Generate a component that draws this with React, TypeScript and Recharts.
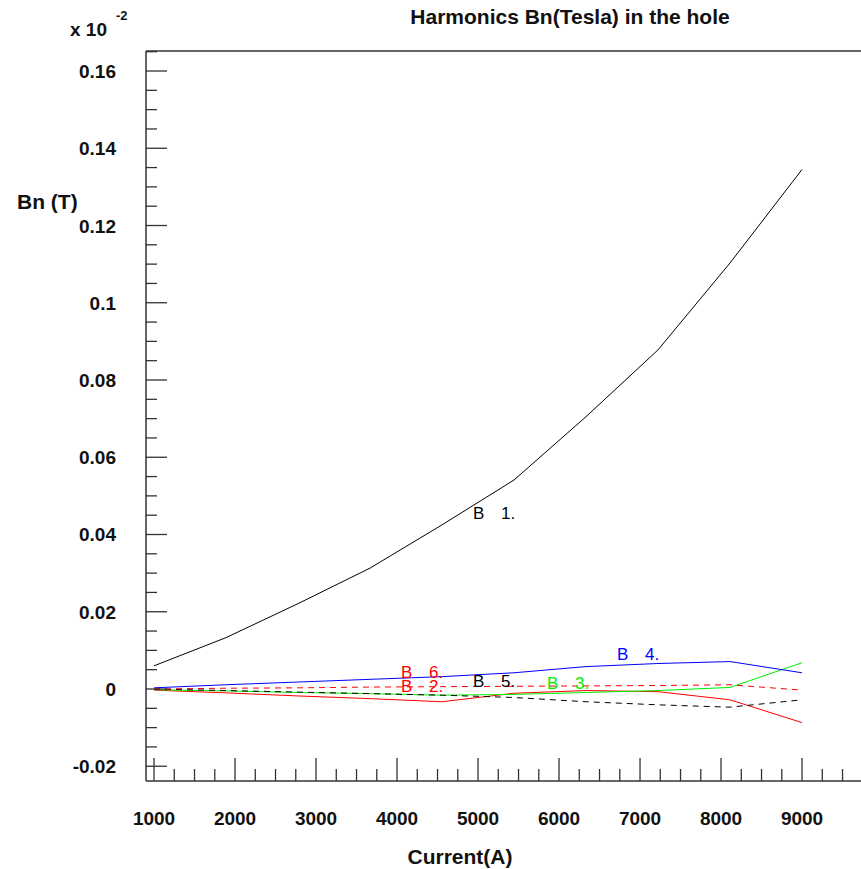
import { LineChart, Line, XAxis, YAxis, ReferenceLine, ReferenceDot } from "recharts";

// currents (A) and harmonic amplitudes (x 10^-2 T)
const currents = [1000, 1889, 2778, 3667, 4556, 5444, 6333, 7222, 8111, 9000];
const b1 = [0.006, 0.0133, 0.0221, 0.0313, 0.0425, 0.0541, 0.0705, 0.0878, 0.1103, 0.1345];
const b2 = [-0.0003, -0.001, -0.0018, -0.0025, -0.0033, -0.0011, -0.0004, -0.0007, -0.0028, -0.0087];
const b3 = [-0.0002, -0.0005, -0.0009, -0.0012, -0.0016, -0.0014, -0.0009, -0.0004, 0.0004, 0.0068];
const b4 = [0.0003, 0.0011, 0.0018, 0.0025, 0.0032, 0.0042, 0.0058, 0.0066, 0.0071, 0.0042];
const b5 = [0, -0.0004, -0.0008, -0.0012, -0.0016, -0.0022, -0.0033, -0.0041, -0.0047, -0.0028];
const b6 = [0, 0.0002, 0.0003, 0.0005, 0.0006, 0.0007, 0.0008, 0.0009, 0.0011, -0.0003];

const xMajorTicks = [1000, 2000, 3000, 4000, 5000, 6000, 7000, 8000, 9000];
const xTickLabels = ["1000", "2000", "3000", "4000", "5000", "6000", "7000", "8000", "9000"];
const yMajorTicks = [-0.02, 0, 0.02, 0.04, 0.06, 0.08, 0.1, 0.12, 0.14, 0.16];
const yTickLabels = ["-0.02", "0", "0.02", "0.04", "0.06", "0.08", "0.1", "0.12", "0.14", "0.16"];

// curve labels "B n." placed near each curve
const labelNums = ["1.", "2.", "3.", "4.", "5.", "6."];
const labelX = [4938, 4049, 5852, 6716, 4938, 4049];
const labelY = [0.044, -0.0007, 0.0, 0.0075, 0.0006, 0.00285];

const series = [
  { key: "b1", color: "#000000", dash: undefined },
  { key: "b2", color: "#ff0000", dash: undefined },
  { key: "b3", color: "#00ee00", dash: undefined },
  { key: "b4", color: "#0000ff", dash: undefined },
  { key: "b5", color: "#000000", dash: "6 5" },
  { key: "b6", color: "#ff0000", dash: "6 5" },
];

const X_MIN = 901;
const X_MAX = 9728;
const Y_MIN = -0.02382;
const Y_MAX = 0.16518;

const data = currents.map((c, i) => ({
  current: c,
  b1: b1[i],
  b2: b2[i],
  b3: b3[i],
  b4: b4[i],
  b5: b5[i],
  b6: b6[i],
}));

const xTicks: number[] = [];
for (let v = 1000; v <= 9500; v += 250) xTicks.push(v);
const yTicks: number[] = [];
for (let i = -4; i <= 33; i++) yTicks.push(Math.round(i * 5) / 1000);

const FONT = "'Liberation Sans', Arial, sans-serif";
const AXIS = "#333";

function XTick(props: any) {
  const { x, y, payload } = props;
  const idx = xMajorTicks.indexOf(payload.value);
  const major = idx >= 0;
  return (
    <g>
      <line x1={x} y1={y} x2={x} y2={y - (major ? 23 : 12)} stroke={AXIS} strokeWidth={1.3} />
      {major && (
        <text x={x} y={y + 44} textAnchor="middle" fontFamily={FONT} fontWeight="bold" fontSize={19} fill="#111">
          {xTickLabels[idx]}
        </text>
      )}
    </g>
  );
}

function YTick(props: any) {
  const { x, y, payload } = props;
  const idx = yMajorTicks.findIndex((t) => Math.abs(t - payload.value) < 1e-9);
  const major = idx >= 0;
  return (
    <g>
      <line x1={x} y1={y} x2={x + (major ? 21 : 11)} y2={y} stroke={AXIS} strokeWidth={1.3} />
      {major && (
        <text x={x - 30} y={y + 7} textAnchor="end" fontFamily={FONT} fontWeight="bold" fontSize={19} fill="#111">
          {yTickLabels[idx]}
        </text>
      )}
    </g>
  );
}

export default function App() {
  return (
    <div style={{ position: "fixed", left: 0, top: 0, width: 861, height: 869, overflow: "hidden", background: "#fff" }}>
      <LineChart width={861} height={869} data={data} margin={{ top: 51, right: 0, bottom: 28, left: 16 }}>
        <XAxis
          dataKey="current"
          type="number"
          domain={[X_MIN, X_MAX]}
          allowDataOverflow
          ticks={xTicks}
          interval={0}
          tickSize={0}
          tickMargin={0}
          tickLine={false}
          tick={<XTick />}
          height={60}
          axisLine={{ stroke: AXIS, strokeWidth: 1.5 }}
        />
        <YAxis
          type="number"
          domain={[Y_MIN, Y_MAX]}
          allowDataOverflow
          ticks={yTicks}
          interval={0}
          tickSize={0}
          tickMargin={0}
          tickLine={false}
          tick={<YTick />}
          width={130}
          axisLine={{ stroke: AXIS, strokeWidth: 1.5 }}
        />
        <ReferenceLine y={Y_MAX} stroke={AXIS} strokeWidth={1.5} />
        {series.map((s) => (
          <Line
            key={s.key}
            type="linear"
            dataKey={s.key}
            stroke={s.color}
            strokeWidth={1}
            strokeDasharray={s.dash}
            dot={false}
            activeDot={false}
            isAnimationActive={false}
          />
        ))}
        {labelNums.map((n, i) => (
          <ReferenceDot
            key={n}
            x={labelX[i]}
            y={labelY[i]}
            r={0}
            shape={(p: any) => (
              <text x={p.cx} y={p.cy} fontFamily={FONT} fontSize={17} fill={series[i].color}>
                <tspan x={p.cx}>B</tspan>
                <tspan x={p.cx + 28}>{n}</tspan>
              </text>
            )}
          />
        ))}
      </LineChart>
      <svg width={861} height={869} style={{ position: "absolute", left: 0, top: 0, pointerEvents: "none" }}>
        <text x={570} y={24} textAnchor="middle" fontFamily={FONT} fontWeight="bold" fontSize={21} fill="#111">
          Harmonics Bn(Tesla) in the hole
        </text>
        <text x={70} y={36} fontFamily={FONT} fontWeight="bold" fontSize={19} fill="#111">
          x 10
        </text>
        <text x={116} y={20} fontFamily={FONT} fontWeight="bold" fontSize={13} fill="#111">
          -2
        </text>
        <text x={17} y={209} fontFamily={FONT} fontWeight="bold" fontSize={21} fill="#111">
          Bn (T)
        </text>
        <text x={460} y={864} textAnchor="middle" fontFamily={FONT} fontWeight="bold" fontSize={21} fill="#111">
          Current(A)
        </text>
      </svg>
    </div>
  );
}
